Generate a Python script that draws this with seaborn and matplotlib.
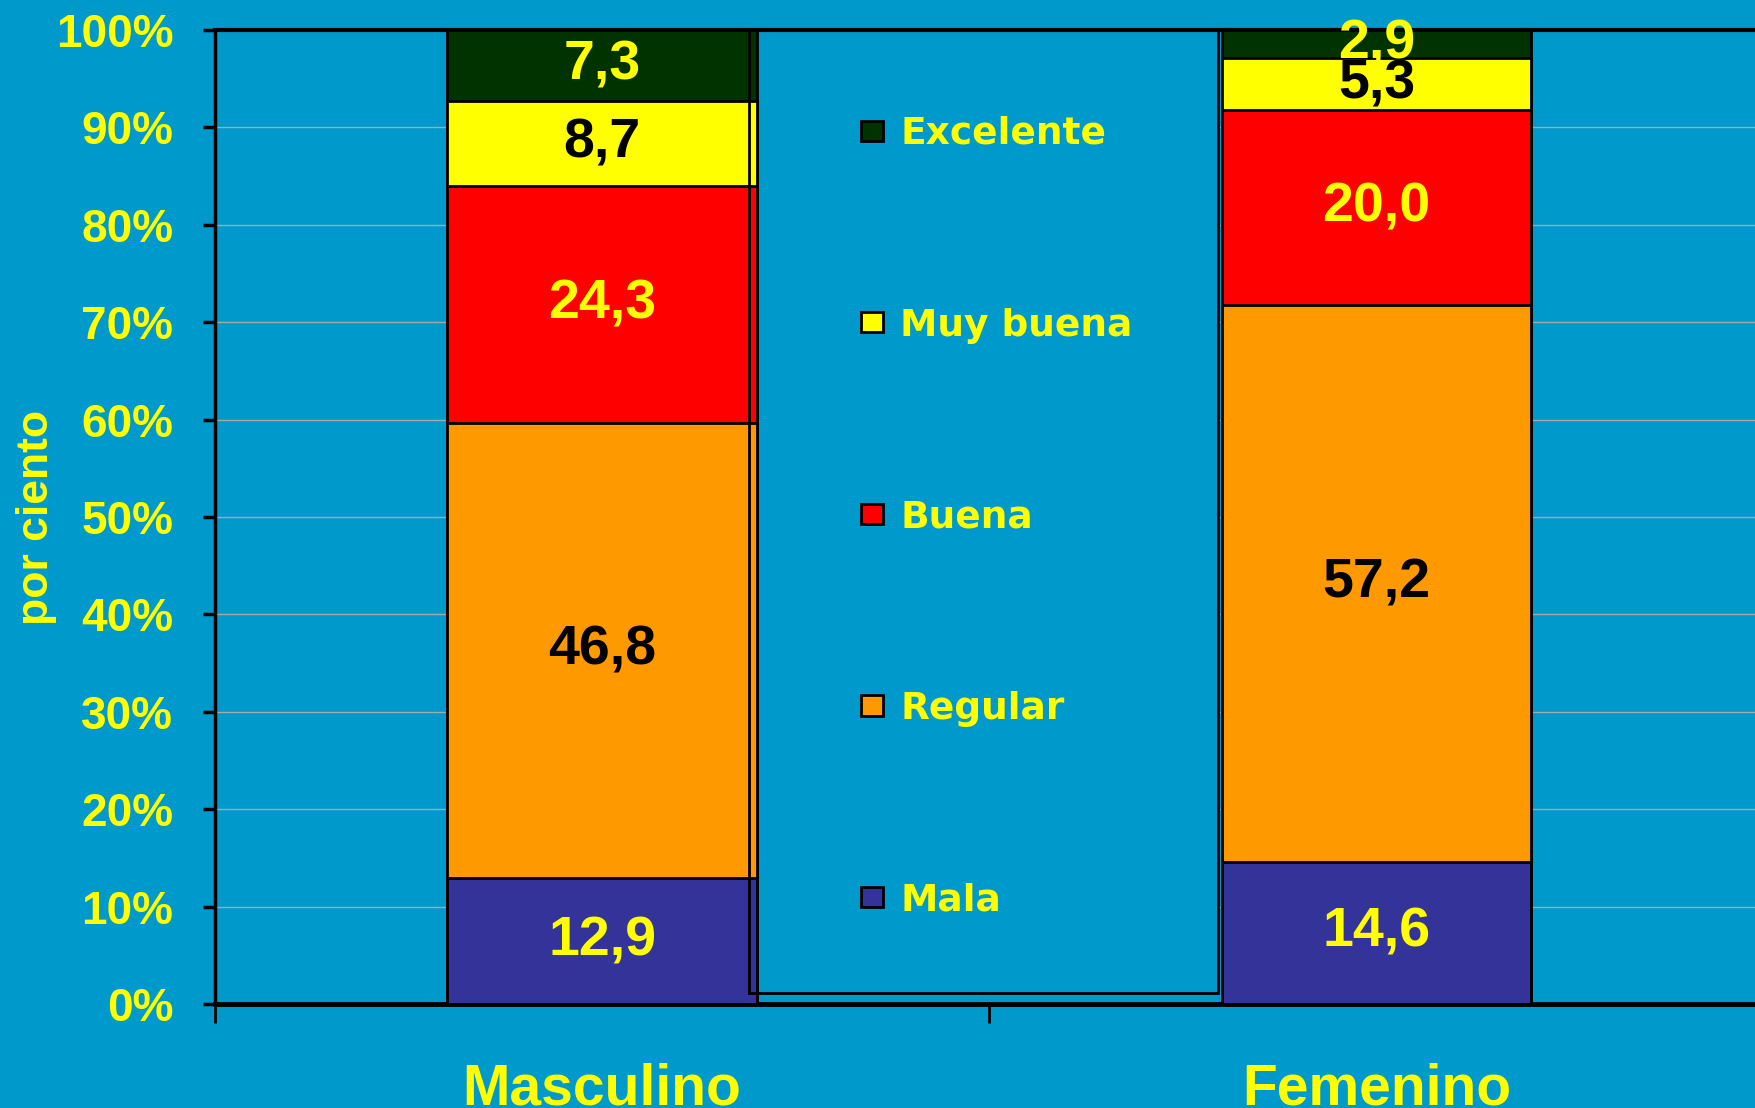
import numpy as np
import pandas as pd
import seaborn as sns
import matplotlib.pyplot as plt
from matplotlib.patches import Patch, Rectangle

sexos = ['Masculino', 'Femenino']
categorias = ['Mala', 'Regular', 'Buena', 'Muy buena', 'Excelente']
mala = [12.9, 14.6]
regular = [46.8, 57.2]
buena = [24.3, 20.0]
muy_buena = [8.7, 5.3]
excelente = [7.3, 2.9]

colores = {'Mala': '#333399', 'Regular': '#FF9900', 'Buena': '#FF0000',
           'Muy buena': '#FFFF00', 'Excelente': '#003300'}
color_texto = {'Mala': '#FFFF00', 'Regular': 'black', 'Buena': '#FFFF00',
               'Muy buena': 'black', 'Excelente': '#FFFF00'}

df = pd.DataFrame({'sexo': sexos, 'Mala': mala, 'Regular': regular, 'Buena': buena,
                   'Muy buena': muy_buena, 'Excelente': excelente})
cum = df[categorias].cumsum(axis=1)

fondo = '#0099CC'
amarillo = '#FFFF00'

fig = plt.figure(figsize=(17.56, 11.08), dpi=100, facecolor=fondo)
ax = fig.add_axes([0.1224, 0.0939, 0.882, 0.879])
ax.set_facecolor(fondo)

# barras apiladas: se dibujan los acumulados de arriba hacia abajo
for cat in categorias[::-1]:
    tmp = pd.DataFrame({'sexo': sexos, 'valor': cum[cat]})
    sns.barplot(data=tmp, x='sexo', y='valor', order=sexos, color=colores[cat],
                saturation=1, width=0.4, edgecolor='black', linewidth=2,
                errorbar=None, ax=ax, zorder=3)

# etiquetas de valores
for i, s in enumerate(sexos):
    for cat in categorias:
        v = df.loc[i, cat]
        centro = cum.loc[i, cat] - v / 2
        ax.text(i, centro, f'{v:.1f}'.replace('.', ','), ha='center', va='center',
                color=color_texto[cat], fontsize=40, fontweight='bold',
                family='Liberation Sans', zorder=5)

ax.set_xlim(-0.5, 1.5)
ax.set_ylim(0, 100)
ax.set_yticks(np.arange(0, 101, 10))
ax.set_yticklabels([f'{v}%' for v in range(0, 101, 10)])
ax.yaxis.grid(True, color='#a8a8a8', linewidth=1)
ax.set_axisbelow(True)

for lab in ax.get_yticklabels():
    lab.set_fontsize(33)
    lab.set_fontweight('bold')
    lab.set_family('Liberation Sans')
    lab.set_color(amarillo)
ax.tick_params(axis='y', length=9, width=2.5, color='black', pad=21)

ax.set_xticks([0, 1])
ax.set_xticklabels(sexos)
for lab in ax.get_xticklabels():
    lab.set_fontsize(41)
    lab.set_fontweight('bold')
    lab.set_family('Liberation Sans')
    lab.set_color(amarillo)
ax.tick_params(axis='x', length=0, pad=42)
ax.set_xticks([-0.5, 0.5, 1.5], minor=True)
ax.tick_params(axis='x', which='minor', length=14, width=2, color='black')

ax.set_xlabel('')
ax.set_ylabel('por ciento', color=amarillo, fontsize=32, fontweight='bold',
              family='Liberation Sans')
ax.yaxis.set_label_coords(-0.102, 0.5)

for lado in ['left', 'top', 'bottom']:
    ax.spines[lado].set_color('black')
ax.spines['left'].set_linewidth(2.5)
ax.spines['top'].set_linewidth(3)
ax.spines['bottom'].set_linewidth(3.5)
ax.spines['right'].set_visible(False)

# recuadro de la leyenda (fondo debajo de las barras, borde encima)
ax.add_patch(Rectangle((0.345, 0.011), 0.3025, 0.989, transform=ax.transAxes,
                       facecolor=fondo, edgecolor='none', zorder=2))
ax.add_patch(Rectangle((0.345, 0.011), 0.3025, 0.989, transform=ax.transAxes,
                       facecolor='none', edgecolor='black', linewidth=2, zorder=4))

handles = [Patch(facecolor=colores[c], edgecolor='black', linewidth=2, label=c)
           for c in categorias[::-1]]
leg = ax.legend(handles=handles, loc='upper left', bbox_to_anchor=(0.405, 0.931),
                frameon=False, borderpad=0, handlelength=0.6, handleheight=0.45,
                handletextpad=0.45, labelspacing=4.15,
                prop={'family': 'DejaVu Sans', 'weight': 'bold', 'size': 27})
for t in leg.get_texts():
    t.set_color(amarillo)

fig.savefig('out.png', dpi=100, facecolor=fondo)
